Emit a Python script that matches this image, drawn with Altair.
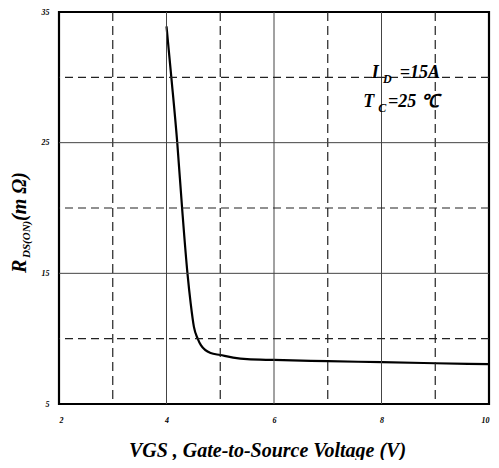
import altair as alt
import pandas as pd

# Curve: RDS(ON) vs VGS
vgs = [4.0, 4.09, 4.2, 4.29, 4.39, 4.45, 4.51, 4.58, 4.64, 4.82, 5.0, 5.24, 5.5, 6.0, 7.0, 8.0, 9.0, 10.0]
rds = [33.9, 30.0, 25.0, 20.0, 15.0, 12.7, 10.9, 10.0, 9.5, 8.9, 8.75, 8.55, 8.43, 8.37, 8.28, 8.2, 8.12, 8.05]

x_ticks = [2, 4, 6, 8, 10]
y_ticks = [5, 15, 25, 35]
x_solid = [4, 6, 8]
x_dashed = [3, 5, 7, 9]
y_solid = [15, 25]
y_dashed = [10, 20, 30]

FONT = "Liberation Serif"
XS = alt.Scale(domain=[2, 10], nice=False, zero=False)
YS = alt.Scale(domain=[5, 35], nice=False, zero=False)

XAX = alt.Axis(
    values=x_ticks, title="VGS , Gate-to-Source Voltage (V)", grid=False, domain=False,
    ticks=False, labelPadding=12, labelFont=FONT, labelFontSize=8, labelFontStyle="italic",
    labelFontWeight="bold", labelColor="black", titleFont=FONT, titleFontSize=20,
    titleFontStyle="italic", titleFontWeight="bold", titleColor="black",
    titleX=208, titleY=52, titleAlign="center", titleBaseline="alphabetic")
YAX = alt.Axis(
    values=y_ticks, title="", grid=False, domain=False, ticks=False, labelPadding=10,
    labelFont=FONT, labelFontSize=8, labelFontStyle="italic", labelFontWeight="bold",
    labelColor="black")

curve = pd.DataFrame({"VGS": vgs, "RDS": rds})

line = alt.Chart(curve).mark_line(color="black", strokeWidth=2.2, interpolate="monotone").encode(
    x=alt.X("VGS:Q", scale=XS, axis=XAX),
    y=alt.Y("RDS:Q", scale=YS, axis=YAX),
)

vsolid = alt.Chart(pd.DataFrame({"VGS": x_solid})).mark_rule(color="#444", strokeWidth=1).encode(
    x=alt.X("VGS:Q", scale=XS, axis=XAX))
vdash = alt.Chart(pd.DataFrame({"VGS": x_dashed})).mark_rule(color="#222", strokeWidth=1.2, strokeDash=[9, 5]).encode(
    x=alt.X("VGS:Q", scale=XS, axis=XAX))
hsolid = alt.Chart(pd.DataFrame({"RDS": y_solid})).mark_rule(color="#444", strokeWidth=1).encode(
    y=alt.Y("RDS:Q", scale=YS, axis=YAX))
hdash = alt.Chart(pd.DataFrame({"RDS": y_dashed})).mark_rule(color="#222", strokeWidth=1.2, strokeDash=[8, 5]).encode(
    y=alt.Y("RDS:Q", scale=YS, axis=YAX))

# Annotation (data coordinates for anchors)
ann1_y = 29.95
ann2_y = 27.73
anno_big = pd.DataFrame({
    "t": ["I", "=15A", "T", "=25 \u2103"],
    "VGS": [7.82, 8.34, 7.66, 8.12],
    "RDS": [ann1_y, ann1_y, ann2_y, ann2_y],
})
anno_small = pd.DataFrame({
    "t": ["D", "C"],
    "VGS": [8.03, 7.94],
    "RDS": [ann1_y, ann2_y],
})
t_big = alt.Chart(anno_big).mark_text(
    font=FONT, fontSize=18, fontStyle="italic", fontWeight="bold", align="left",
    baseline="alphabetic", color="black").encode(
    x=alt.X("VGS:Q", scale=XS, axis=XAX), y=alt.Y("RDS:Q", scale=YS, axis=YAX), text="t:N")
t_small = alt.Chart(anno_small).mark_text(
    font=FONT, fontSize=12, fontStyle="italic", fontWeight="bold", align="left",
    baseline="alphabetic", color="black", dy=5).encode(
    x=alt.X("VGS:Q", scale=XS, axis=XAX), y=alt.Y("RDS:Q", scale=YS, axis=YAX), text="t:N")

# Y axis title: R_DS(ON) (m Ω), rotated
yt_R = alt.Chart().mark_text(text="R", font=FONT, fontSize=20, fontStyle="italic", fontWeight="bold",
    angle=270, align="left", baseline="alphabetic", color="black").encode(
    x=alt.value(-33), y=alt.value(261))
yt_sub = alt.Chart().mark_text(text="DS(ON)", font=FONT, fontSize=11, fontStyle="italic", fontWeight="bold",
    angle=270, align="left", baseline="alphabetic", color="black").encode(
    x=alt.value(-29), y=alt.value(246))
yt_unit = alt.Chart().mark_text(text=" (m \u03a9)", font=FONT, fontSize=20, fontStyle="italic", fontWeight="bold",
    angle=270, align="left", baseline="alphabetic", color="black").encode(
    x=alt.value(-33), y=alt.value(209))

chart = alt.layer(line, vsolid, vdash, hsolid, hdash, t_big, t_small, yt_R, yt_sub, yt_unit).properties(
    width=430, height=392,
    autosize=alt.AutoSizeParams(type="none"),
    padding={"left": 51, "top": 4, "right": 2, "bottom": 56},
    background="white",
).configure_view(stroke="black", strokeWidth=2.2)

chart.save("out.html", embed_options={"renderer": "svg", "actions": False})
